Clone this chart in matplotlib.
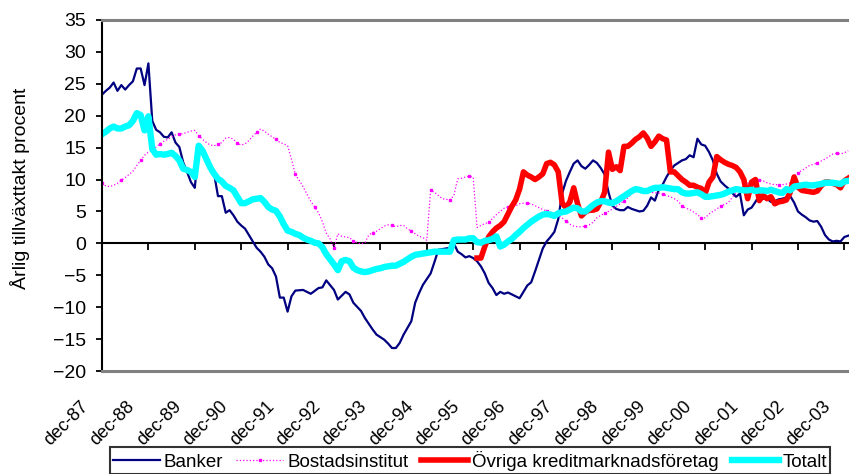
import matplotlib
matplotlib.use('Agg')
import matplotlib.pyplot as plt
from matplotlib.transforms import blended_transform_factory, ScaledTranslation

plt.rcParams['font.family'] = ['Liberation Sans', 'DejaVu Sans']

# month offsets from dec-87 and annual growth (%)
banker_m = [0, 1, 2, 3, 4, 5, 6, 7, 8, 9, 10, 11, 12, 13, 14, 15, 16, 17, 18, 19,
            20, 21, 22, 23, 24, 25, 26, 27, 28, 29, 30, 31, 32, 33, 34, 35, 36, 37, 38, 39,
            40, 41, 42, 43, 44, 45, 46, 47, 48, 49, 50, 52, 54, 56, 57, 58, 60, 61, 63, 64,
            65, 67, 68, 70, 71, 73, 74, 75, 76, 77, 78, 80, 81, 82, 83, 85, 86, 87, 89, 90,
            91, 92, 93, 94, 95, 96, 97, 98, 99, 100, 101, 102, 103, 104, 105, 107, 108, 109,
            110, 111, 112, 113, 114, 115, 116, 117, 118, 119, 120, 121, 122, 123, 124, 125,
            126, 127, 128, 129, 130, 131, 132, 133, 134, 135, 136, 137, 138, 139, 140, 141,
            142, 143, 144, 145, 146, 147, 148, 149, 150, 151, 152, 153, 154, 155, 156, 157,
            158, 159, 160, 161, 162, 163, 164, 165, 166, 167, 168, 169, 170, 171, 172, 173,
            174, 175, 176, 177, 178, 179, 180, 181, 182, 183, 184, 185, 186, 187, 188, 189,
            190, 191, 192, 193]
banker_v = [23.3, 23.9, 24.4, 25.2, 23.9, 24.8, 24.1, 24.8, 25.4, 27.4, 27.4, 24.8, 28.2,
            19.2, 17.8, 17.4, 16.7, 16.6, 17.4, 15.8, 15.1, 12.7, 11.2, 9.6, 8.7, 15.3, 14.9,
            13.8, 12.2, 10.9, 7.4, 7.4, 4.8, 5.2, 4.4, 3.4, 2.8, 2.3, 1.3, 0.3, -0.7, -1.3,
            -2.1, -3.3, -3.9, -5.2, -8.5, -8.5, -10.7, -8.3, -7.4, -7.3, -7.9, -7.0, -6.9,
            -5.8, -7.3, -8.8, -7.6, -8.0, -9.3, -10.6, -11.7, -13.5, -14.3, -15.1, -15.7,
            -16.4, -16.4, -15.6, -14.3, -12.2, -9.3, -7.8, -6.5, -4.7, -2.9, -1.0, -0.8, -0.7,
            0.0, -1.3, -1.7, -2.2, -2.0, -2.3, -2.8, -3.6, -4.7, -6.2, -7.0, -8.1, -7.6, -7.9,
            -7.7, -8.3, -8.6, -7.6, -6.6, -6.1, -4.4, -2.6, -0.8, 0.3, 1.0, 1.8, 3.8, 7.8,
            9.8, 11.2, 12.5, 13.0, 12.1, 11.7, 12.3, 13.0, 12.6, 11.8, 10.8, 8.0, 5.9, 5.4,
            5.2, 5.2, 5.7, 5.4, 5.2, 5.0, 5.1, 5.9, 7.2, 6.7, 8.4, 9.2, 10.4, 11.4, 12.2,
            12.6, 13.0, 13.2, 13.8, 13.5, 16.4, 15.5, 15.3, 14.3, 13.0, 10.9, 9.7, 9.1, 8.6,
            7.9, 7.3, 7.8, 4.4, 5.3, 5.6, 6.5, 7.5, 7.0, 7.0, 6.5, 6.6, 6.9, 7.0, 7.2, 7.4,
            6.4, 5.0, 4.5, 4.1, 3.6, 3.4, 3.5, 2.6, 1.3, 0.6, 0.3, 0.4, 0.3, 1.0, 1.2]

bostad_m = list(range(0, 194))
bostad_v = [9.4, 9.0, 8.9, 9.1, 9.4, 9.9, 10.3, 10.8, 11.3, 12.2, 13.0, 13.8, 14.3, 14.6,
            15.1, 15.6, 16.0, 16.3, 16.7, 17.0, 17.1, 17.2, 17.4, 17.6, 17.7, 16.9, 16.3,
            15.8, 15.4, 15.3, 15.5, 15.8, 16.5, 16.6, 16.3, 15.7, 15.4, 15.6, 16.1, 16.8,
            17.4, 17.9, 17.6, 17.1, 16.7, 16.3, 15.8, 15.6, 15.3, 13.2, 10.8, 9.9, 8.9, 7.7,
            6.6, 5.7, 4.8, 3.4, 1.6, 0.7, -0.8, 1.5, 1.1, 1.0, 0.9, 0.4, 0.1, -0.1, 0.1, 1.3,
            1.7, 1.9, 2.3, 2.7, 2.9, 2.8, 2.6, 2.8, 2.8, 2.3, 1.9, 1.5, 1.1, 0.9, 0.5, 8.3,
            8.0, 7.5, 7.0, 6.9, 6.8, 7.5, 10.1, 10.2, 10.4, 10.5, 10.4, 2.5, 2.8, 3.1, 3.3,
            3.9, 4.5, 5.0, 5.5, 5.7, 5.8, 5.9, 6.2, 6.3, 6.3, 6.2, 5.9, 5.6, 5.3, 5.1, 4.9,
            4.7, 4.4, 4.0, 3.5, 3.0, 2.7, 2.6, 2.6, 2.7, 2.9, 3.3, 4.0, 4.4, 4.7, 5.0, 5.4,
            5.8, 6.2, 6.7, 7.1, 7.8, 8.5, 8.5, 8.3, 8.2, 8.0, 7.9, 7.9, 7.7, 7.5, 7.3, 7.0,
            6.6, 5.9, 5.5, 5.3, 4.9, 4.5, 4.0, 4.0, 4.6, 5.0, 5.4, 5.8, 6.1, 6.4, 7.2, 7.9,
            8.4, 9.0, 9.4, 9.7, 9.9, 9.9, 9.8, 9.5, 9.3, 9.2, 9.2, 9.2, 9.3, 9.5, 10.5, 11.1,
            11.4, 11.8, 12.2, 12.4, 12.6, 12.9, 13.2, 13.6, 14.0, 14.1, 14.0, 14.2, 14.5]

ovriga_m = list(range(97, 194))
ovriga_v = [-2.3, -2.3, -0.5, 1.0, 1.8, 2.4, 2.8, 3.4, 4.6, 5.8, 6.8, 8.5, 11.2, 10.7, 10.4,
            10.0, 10.4, 10.9, 12.5, 12.7, 12.3, 11.2, 6.3, 5.6, 6.5, 8.7, 6.2, 4.3, 4.9, 5.2,
            5.2, 5.4, 6.5, 8.0, 14.3, 11.6, 12.0, 11.4, 15.2, 15.2, 15.7, 16.3, 16.7, 17.3,
            16.5, 15.2, 15.9, 16.8, 16.4, 16.2, 11.2, 11.2, 10.6, 10.0, 9.6, 9.1, 9.1, 8.8,
            8.6, 7.8, 9.6, 10.4, 13.6, 13.1, 12.7, 12.4, 12.2, 11.9, 11.2, 10.0, 7.0, 9.6,
            10.0, 6.7, 7.5, 7.0, 7.3, 6.2, 6.5, 6.6, 6.8, 8.0, 10.4, 8.8, 8.3, 8.2, 8.1, 8.0,
            8.2, 9.0, 9.6, 9.6, 9.4, 9.2, 8.7, 9.8, 10.2]

totalt_m = list(range(0, 194))
totalt_v = [17.1, 17.5, 18.0, 18.3, 18.0, 18.0, 18.3, 18.5, 19.2, 20.4, 20.1, 17.7, 19.9,
            14.8, 13.9, 14.0, 13.9, 14.0, 14.2, 13.7, 13.0, 11.7, 11.5, 11.2, 10.4, 15.3,
            14.5, 13.2, 11.9, 10.9, 10.1, 9.7, 9.0, 8.7, 8.3, 7.3, 6.3, 6.3, 6.6, 6.9, 7.0,
            7.1, 6.5, 5.7, 5.3, 5.1, 4.2, 3.0, 2.0, 1.8, 1.5, 1.3, 0.9, 0.6, 0.4, 0.1, 0.0,
            -0.6, -1.7, -2.5, -3.3, -4.2, -2.8, -2.6, -2.8, -3.8, -4.2, -4.4, -4.5, -4.4,
            -4.2, -4.0, -3.9, -3.7, -3.6, -3.5, -3.5, -3.2, -2.9, -2.5, -2.1, -1.8, -1.7,
            -1.6, -1.5, -1.4, -1.3, -1.3, -1.3, -1.3, -1.3, 0.5, 0.6, 0.6, 0.6, 0.8, 0.8, 0.2,
            0.1, 0.4, 0.5, 0.7, 1.1, -0.5, -0.2, 0.3, 0.7, 1.3, 1.8, 2.4, 2.9, 3.4, 3.8, 4.2,
            4.5, 4.6, 4.5, 4.3, 4.7, 4.9, 5.0, 5.3, 5.6, 5.5, 5.0, 5.0, 5.5, 6.0, 6.4, 6.6,
            6.6, 6.4, 6.3, 6.6, 7.0, 7.4, 7.8, 8.2, 8.5, 8.4, 8.2, 8.2, 8.5, 8.7, 8.7, 8.8,
            8.7, 8.6, 8.5, 8.5, 8.0, 7.8, 7.8, 7.9, 8.0, 7.7, 7.3, 7.3, 7.4, 7.5, 7.6, 7.8,
            8.1, 8.3, 8.5, 8.4, 8.3, 8.3, 8.4, 8.2, 8.3, 8.3, 8.2, 8.4, 8.2, 8.0, 7.9, 8.5,
            8.3, 8.9, 9.0, 9.1, 9.2, 9.1, 9.1, 9.2, 9.3, 9.5, 9.5, 9.5, 9.4, 9.3, 9.7, 9.8]

tick_m = list(range(0, 193, 12))
tick_labels = ['dec-%02d' % (y % 100) for y in range(87, 104)]
y_ticks = list(range(-20, 40, 5))

fig = plt.figure(figsize=(8.49, 4.74), dpi=100)
ax = fig.add_axes([102 / 849, 103 / 474, 747 / 849, 351 / 474])

ax.plot(banker_m, banker_v, color='#000080', lw=1.6, label='Banker')
ax.plot(bostad_m, bostad_v, color='#FF00FF', lw=0.9, ls=':', marker='s',
        markersize=2.0, markevery=5, label='Bostadsinstitut')
ax.plot(ovriga_m, ovriga_v, color='#FF0000', lw=4.0, label='Övriga kreditmarknadsföretag')
ax.plot(totalt_m, totalt_v, color='#00FFFF', lw=4.6, label='Totalt')

ax.set_xlim(0, 193.2)
ax.set_ylim(-20, 35)
ax.set_yticks(y_ticks)
ax.tick_params(axis='y', direction='out', length=4.5, width=1.3, pad=7, labelsize=14)
ax.set_xticks([])

for s in ('top', 'bottom'):
    ax.spines[s].set_color('#808080')
    ax.spines[s].set_linewidth(2.2)
ax.spines['right'].set_visible(False)
ax.spines['left'].set_linewidth(1.5)

# zero line with the year ticks
zax = ax.secondary_xaxis(0, transform=ax.transData)
zax.set_xticks(tick_m)
zax.tick_params(direction='out', length=5, width=1.3, labelbottom=False, labeltop=False)
for s in zax.spines.values():
    s.set_linewidth(1.5)
    s.set_color('black')

trans = blended_transform_factory(ax.transData, ax.transAxes) + \
    ScaledTranslation(-0.10, -0.27, fig.dpi_scale_trans)
for m, lab in zip(tick_m, tick_labels):
    ax.text(m, 0, lab, transform=trans, rotation=45, ha='right', va='top',
            fontsize=13, clip_on=False)

fig.text(20 / 849, 0.603, 'Årlig tillväxttakt procent', rotation=90,
         ha='center', va='center', fontsize=14)

leg = fig.legend(loc='lower center', bbox_to_anchor=(470 / 849, 0.0), ncol=4,
                 fontsize=13.5, frameon=True, fancybox=False, edgecolor='black',
                 borderpad=0.18, handlelength=2.5, handletextpad=0.2,
                 columnspacing=0.7, borderaxespad=0.0)
leg.get_frame().set_linewidth(1.5)

fig.savefig('out.png', dpi=100)
